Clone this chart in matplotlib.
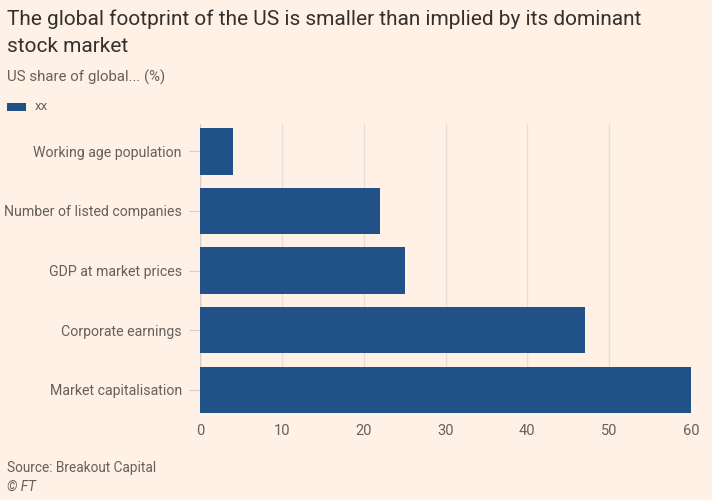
import matplotlib
matplotlib.use("Agg")
import matplotlib.pyplot as plt
from matplotlib.patches import Rectangle

categories = ["Market capitalisation", "Corporate earnings", "GDP at market prices",
              "Number of listed companies", "Working age population"]
values = [60, 47, 25, 22, 4]
xticks = [0, 10, 20, 30, 40, 50, 60]
series_name = "xx"

BG = "#FFF1E5"
BAR = "#205288"
GRID = "#E9DED5"
DARK = "#33302E"
GREY = "#66605C"

plt.rcParams['font.family'] = ['Roboto', 'DejaVu Sans']

fig = plt.figure(figsize=(7.12, 5.0), dpi=100, facecolor=BG)
ax = fig.add_axes([200/712, 1-413/500, (691-200)/712, (413-124)/500])
ax.set_facecolor(BG)

ax.barh(range(len(categories)), values, height=0.78, color=BAR, zorder=3)
ax.set_xlim(0, 60)
ax.set_ylim(-0.39, 4.46)
ax.set_xticks(xticks)
ax.set_xticklabels([str(t) for t in xticks])
ax.set_yticks(range(len(categories)))
ax.set_yticklabels(categories)
ax.grid(axis='x', color=GRID, linewidth=1, zorder=0)
for s in ax.spines.values():
    s.set_visible(False)
ax.axvline(0, color="#D8CEC6", linewidth=1, zorder=2)
ax.tick_params(axis='x', length=0, labelsize=10.5, labelcolor=GREY, pad=8)
ax.tick_params(axis='y', length=8, color="#D8CEC6", labelsize=10.2, labelcolor=GREY, pad=5)

fig.text(7/712, 1-19/500, "The global footprint of the US is smaller than implied by its dominant",
         fontsize=15, color=DARK, va='center', ha='left')
fig.text(7/712, 1-46/500, "stock market",
         fontsize=15, color=DARK, va='center', ha='left')
fig.text(7/712, 1-77/500, "US share of global... (%)", fontsize=10.8, color=GREY, va='center', ha='left')
fig.add_artist(Rectangle((7/712, 1-111/500), 19/712, 8/500, transform=fig.transFigure,
                         facecolor=BAR, edgecolor='none'))
fig.text(35/712, 1-107/500, series_name, fontsize=9.5, color=GREY, va='center', ha='left')
fig.text(7/712, 1-468/500, "Source: Breakout Capital", fontsize=9.8, color=GREY, va='center', ha='left')
fig.text(7/712, 1-487/500, "© FT", fontsize=9.8, color=GREY, va='center', ha='left', style='italic')

fig.savefig("out.png", dpi=100, facecolor=BG)
